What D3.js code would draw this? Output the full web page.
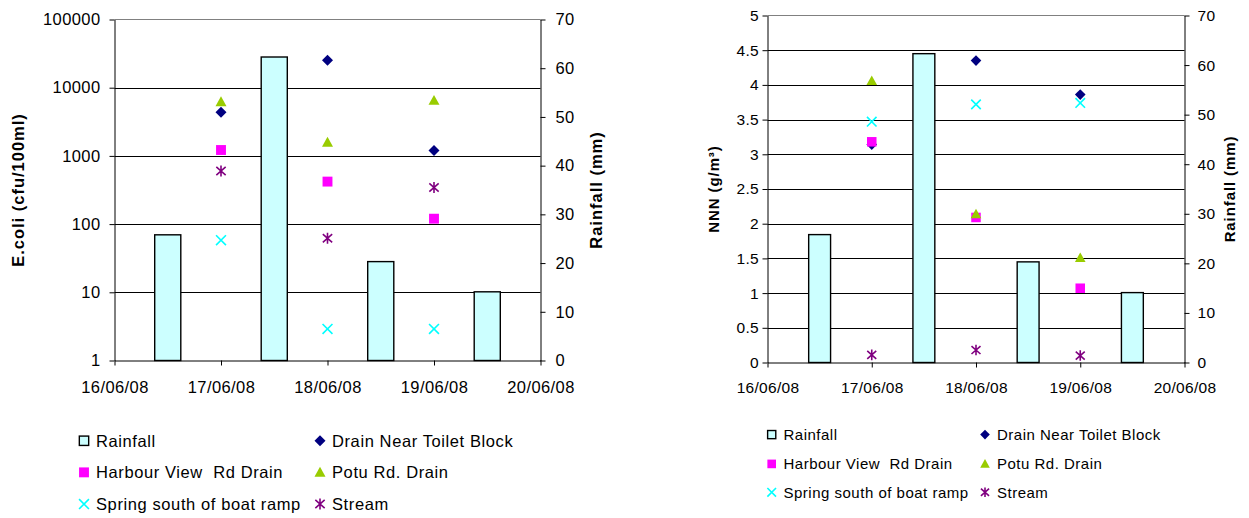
<!DOCTYPE html>
<html>
<head>
<meta charset="utf-8">
<script src="https://cdn.jsdelivr.net/npm/d3@7"></script>
<style>
  body { margin: 0; background: #fff; }
  svg { display: block; }
  text { font-family: "Liberation Sans", Arial, sans-serif; fill: #000; white-space: pre; }
</style>
</head>
<body>
<svg id="chart" width="1249" height="518"></svg>
<script>
// ---- data ----
const axisDates = ["2008-06-16", "2008-06-17", "2008-06-18", "2008-06-19", "2008-06-20"];
const sampleDates = ["2008-06-17", "2008-06-18", "2008-06-19"];
const rainDates = ["2008-06-16", "2008-06-17", "2008-06-18", "2008-06-19"];
const rainfall = [25.8, 62.3, 20.3, 14.1];

const ecoliTicks = [1, 10, 100, 1000, 10000, 100000];
const nnnTicks = [0, 0.5, 1, 1.5, 2, 2.5, 3, 3.5, 4, 4.5, 5];
const rainTicks = [0, 10, 20, 30, 40, 50, 60, 70];

const seriesNames = ["Drain Near Toilet Block", "Harbour View  Rd Drain", "Potu Rd. Drain",
                     "Spring south of boat ramp", "Stream"];

const ecoliDrain   = [4350, 25300, 1200];
const ecoliHarbour = [1220, 420, 120];
const ecoliPotu    = [6200, 1580, 6500];
const ecoliSpring  = [58, 2.9, 2.9];
const ecoliStream  = [600, 62, 345];

const nnnDrain   = [3.14, 4.35, 3.86];
const nnnHarbour = [3.18, 2.09, 1.07];
const nnnPotu    = [4.06, 2.14, 1.51];
const nnnSpring  = [3.47, 3.72, 3.74];
const nnnStream  = [0.11, 0.18, 0.10];

// ---- styling ----
const markerTypes = ["diamond", "square", "triangle", "x", "star"];
const markerColors = ["#000080", "#FF00FF", "#99CC00", "#00FFFF", "#800080"];
const barFill = "#CCFFFF";

const parse = d3.timeParse("%Y-%m-%d");
const fmtDate = d3.timeFormat("%d/%m/%y");
const svg = d3.select("#chart");

// marker path centred on (0,0), s = half size
function markerPath(type, s) {
  switch (type) {
    case "diamond": return `M0,${-s}L${s},0L0,${s}L${-s},0Z`;
    case "square": return `M${-s*0.9},${-s*0.9}H${s*0.9}V${s*0.9}H${-s*0.9}Z`;
    case "triangle": return `M0,${-s}L${s},${s*0.8}L${-s},${s*0.8}Z`;
    case "x": return `M${-s*0.9},${-s*0.9}L${s*0.9},${s*0.9}M${s*0.9},${-s*0.9}L${-s*0.9},${s*0.9}`;
    case "star": return `M${-s*0.85},${-s*0.75}L${s*0.85},${s*0.75}M${s*0.85},${-s*0.75}L${-s*0.85},${s*0.75}M0,${-s}V${s}`;
  }
}
function drawMarker(g, type, color, x, y, s) {
  const stroked = type === "x" || type === "star";
  g.append("path")
    .attr("transform", `translate(${x},${y})`)
    .attr("d", markerPath(type, s))
    .attr("fill", stroked ? "none" : color)
    .attr("stroke", stroked ? color : "none")
    .attr("stroke-width", stroked ? 1.6 : 0);
}

function drawChart(cfg) {
  const g = svg.append("g");
  const x = d3.scaleTime()
    .domain([parse(axisDates[0]), parse(axisDates[axisDates.length - 1])])
    .range([cfg.x0, cfg.x1]);
  const band = d3.scaleBand().domain(rainDates).range([cfg.x0, cfg.x1])
    .paddingInner(cfg.barPad).paddingOuter(cfg.barPad / 2);
  const y = cfg.yScale.range([cfg.yBot, cfg.yTop]);
  const yRain = d3.scaleLinear().domain([0, 70]).range([cfg.yBot, cfg.yTop]);

  // gridlines
  g.selectAll("line.grid").data(cfg.yTicks.slice(1, -1)).join("line")
    .attr("x1", cfg.x0).attr("x2", cfg.x1)
    .attr("y1", d => Math.round(y(d)) + 0.5).attr("y2", d => Math.round(y(d)) + 0.5)
    .attr("stroke", "#000").attr("stroke-width", 1);
  g.append("line").attr("x1", cfg.x0).attr("x2", cfg.x1)
    .attr("y1", cfg.yTop).attr("y2", cfg.yTop).attr("stroke", "#808080");

  // rainfall bars
  g.selectAll("rect.bar").data(rainDates).join("rect")
    .attr("x", d => band(d))
    .attr("width", band.bandwidth())
    .attr("y", (d, i) => yRain(rainfall[i]))
    .attr("height", (d, i) => cfg.yBot - yRain(rainfall[i]))
    .attr("fill", barFill).attr("stroke", "#000").attr("stroke-width", 1.4);

  // sample series
  cfg.series.forEach((vals, si) => {
    vals.forEach((v, i) => {
      drawMarker(g, markerTypes[si], markerColors[si], x(parse(sampleDates[i])), y(v), cfg.markerSize);
    });
  });

  const styleAxis = (sel, fs, ls) => {
    sel.selectAll("path,line").attr("stroke", "#000").attr("stroke-width", 1);
    sel.selectAll("text").attr("font-size", fs).attr("letter-spacing", ls)
      .attr("font-family", "\"Liberation Sans\", Arial, sans-serif").attr("fill", "#000");
  };

  g.append("g").attr("transform", `translate(${cfg.x0},0)`)
    .call(d3.axisLeft(y).tickValues(cfg.yTicks).tickFormat(cfg.yFormat)
      .tickSize(5).tickSizeOuter(0).tickPadding(cfg.leftPad))
    .call(s => styleAxis(s, cfg.fs, cfg.ls));
  g.append("g").attr("transform", `translate(${cfg.x1},0)`)
    .call(d3.axisRight(yRain).tickValues(rainTicks).tickFormat(d3.format("d"))
      .tickSize(5).tickSizeOuter(0).tickPadding(cfg.rightPad))
    .call(s => styleAxis(s, cfg.fs, cfg.ls));
  g.append("g").attr("transform", `translate(0,${cfg.yBot})`)
    .call(d3.axisBottom(x).tickValues(axisDates.map(parse)).tickFormat(fmtDate)
      .tickSize(5).tickSizeOuter(0).tickPadding(cfg.bottomPad))
    .call(s => styleAxis(s, cfg.fs, cfg.ls));

  // axis titles
  const title = (tx, ty, txt) => g.append("text")
    .attr("transform", `translate(${tx},${ty}) rotate(-90)`)
    .attr("text-anchor", "middle").attr("dominant-baseline", "central")
    .attr("font-weight", "bold").attr("font-size", cfg.titleFs).attr("letter-spacing", cfg.titleLs)
    .text(txt);
  title(cfg.leftTitleX, cfg.titleY, cfg.leftTitle);
  title(cfg.rightTitleX, cfg.titleY, "Rainfall (mm)");

  // legend
  const L = cfg.legend;
  const entries = [{ name: "Rainfall", type: "bar" }].concat(
    seriesNames.map((n, i) => ({ name: n, type: markerTypes[i], color: markerColors[i] })));
  entries.forEach((e, i) => {
    const col = i % 2, row = Math.floor(i / 2);
    const mx = L.markerX[col], by = L.rows[row], my = by - L.fs * 0.36;
    if (e.type === "bar") {
      const h = L.msize * 0.85;
      g.append("rect").attr("x", mx - h).attr("y", my - h).attr("width", 2 * h).attr("height", 2 * h)
        .attr("fill", barFill).attr("stroke", "#000").attr("stroke-width", 1.4);
    } else {
      drawMarker(g, e.type, e.color, mx, my, L.msize);
    }
    g.append("text").attr("x", L.textX[col]).attr("y", by)
      .attr("font-size", L.fs).attr("letter-spacing", L.ls).text(e.name);
  });
}

drawChart({
  x0: 114.5, x1: 540.5, yTop: 19.5, yBot: 360.5,
  yScale: d3.scaleLog().domain([1, 100000]),
  yTicks: ecoliTicks, yFormat: d3.format("d"),
  series: [ecoliDrain, ecoliHarbour, ecoliPotu, ecoliSpring, ecoliStream],
  barPad: 0.755, markerSize: 5.5,
  fs: 16.5, ls: 0.4, leftPad: 9, rightPad: 10, bottomPad: 15.5,
  titleFs: 16.5, titleLs: 1, leftTitle: "E.coli (cfu/100ml)",
  leftTitleX: 18, rightTitleX: 596, titleY: 190,
  legend: { markerX: [84, 320], textX: [96, 332], rows: [446.7, 478.3, 510], fs: 16.5, ls: 0.6, msize: 5.5 }
});

drawChart({
  x0: 767.5, x1: 1184.5, yTop: 15.5, yBot: 362.5,
  yScale: d3.scaleLinear().domain([0, 5]),
  yTicks: nnnTicks, yFormat: d => String(d),
  series: [nnnDrain, nnnHarbour, nnnPotu, nnnSpring, nnnStream],
  barPad: 0.79, markerSize: 5.3,
  fs: 15.5, ls: 0.3, leftPad: 3.5, rightPad: 8, bottomPad: 14.5,
  titleFs: 15, titleLs: 0.9, leftTitle: "NNN (g/m³)",
  leftTitleX: 713, rightTitleX: 1229, titleY: 189,
  legend: { markerX: [771.7, 985], textX: [783.5, 997], rows: [440, 469.3, 497.7], fs: 15, ls: 0.5, msize: 4.8 }
});
</script>
</body>
</html>
